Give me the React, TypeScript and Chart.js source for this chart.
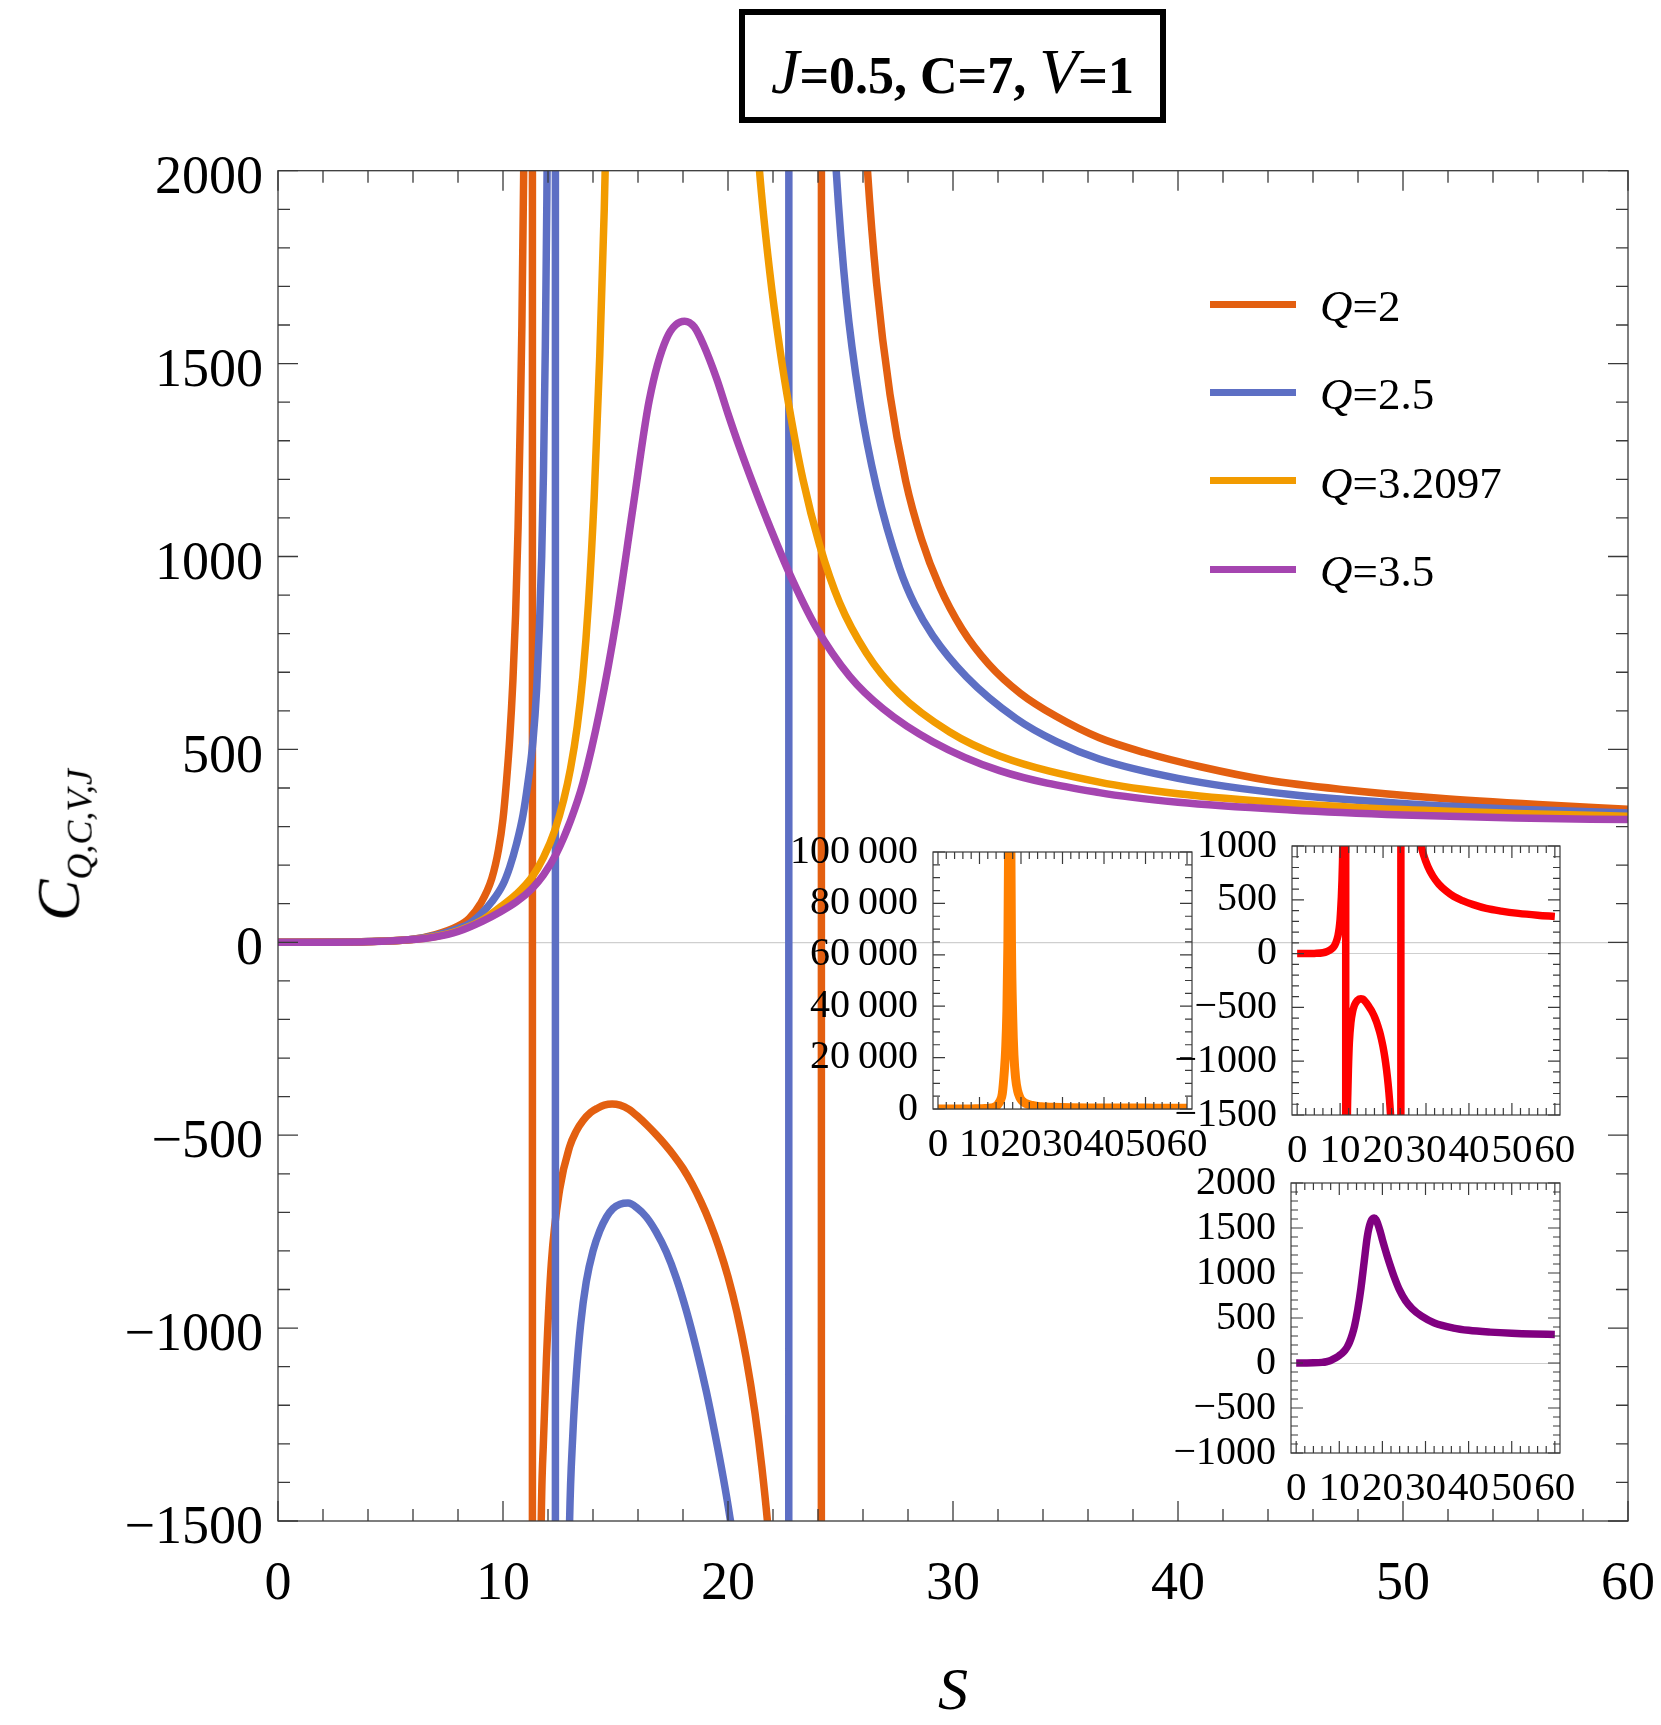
import React, { useEffect, useRef } from 'react';
import { Chart, registerables } from 'chart.js';

Chart.register(...registerables);

// ---------------- data ----------------
const S_Q2 = [0, 2, 4, 6, 7, 8, 8.5, 9, 9.5, 9.8, 10.0, 10.15, 10.3, 10.44, 10.56, 10.67, 10.76, 10.84, 10.92, 11.0, 11.1, 11.2, 11.29, 11.32, 11.4, 11.55, 11.7, 11.8, 11.93, 12.15, 12.52, 12.96, 13.25, 13.56, 13.9, 14.2, 14.5, 14.85, 15.2, 15.6, 16.0, 16.4, 16.8, 17.2, 17.6, 18.0, 18.4, 18.8, 19.2, 19.6, 20.0, 20.4, 20.8, 21.2, 21.5, 21.8, 22.3, 23.0, 23.6, 23.9, 24.1, 24.2, 24.4, 24.8, 25.4, 25.8, 26.2, 26.6, 27.2, 27.9, 28.6, 29.4, 30.4, 31.6, 33.0, 34.6, 36.5, 38.5, 41, 44, 47.5, 51.5, 56, 60];
const C_Q2 = [0, 0.5, 2, 8, 20, 42, 62, 100, 165, 240, 320, 414, 530, 678, 850, 1075, 1330, 1600, 2000, 2630, 4000, 8600, 60000, -40000, -6000, -2500, -1500, -1290, -1080, -830, -640, -530, -490, -462, -441, -430, -422, -419, -422, -433, -452, -474, -498, -524, -553, -586, -626, -673, -727, -791, -867, -960, -1075, -1220, -1358, -1532, -1946, -3130, -6545, -14400, -72000, 70000, 14500, 5750, 3100, 2420, 2000, 1710, 1420, 1195, 1045, 922, 812, 720, 645, 585, 530, 492, 455, 420, 395, 374, 357, 345];

const S_Q25 = [0, 2, 4, 6, 7, 8, 8.5, 9, 9.5, 10, 10.3, 10.6, 10.89, 11.1, 11.33, 11.5, 11.62, 11.72, 11.8, 11.88, 11.95, 12.02, 12.1, 12.2, 12.27, 12.32, 12.34, 12.45, 12.7, 12.96, 13.1, 13.26, 13.45, 13.7, 14.0, 14.3, 14.6, 14.89, 15.2, 15.56, 15.95, 16.37, 16.8, 17.26, 17.7, 18.15, 18.6, 19.04, 19.4, 19.78, 20.07, 20.2, 21.0, 22.0, 22.5, 22.65, 22.75, 23.0, 23.5, 24.2, 24.81, 25.26, 25.85, 26.6, 27.63, 28.3, 29.1, 30.6, 32.8, 34.6, 36.5, 40, 45, 50, 55, 60];
const C_Q25 = [0, 0.4, 2, 8, 18, 36, 48, 72, 105, 150, 195, 255, 330, 410, 520, 660, 820, 1000, 1220, 1540, 1930, 2500, 3400, 6000, 15000, 70000, -80000, -7900, -2550, -1500, -1280, -1120, -990, -880, -800, -748, -712, -690, -679, -676, -688, -712, -750, -803, -870, -955, -1055, -1165, -1268, -1385, -1485, -1540, -2350, -5700, -20000, -80000, 72000, 12300, 4800, 2700, 2000, 1670, 1405, 1180, 969, 875, 795, 688, 580, 520, 475, 425, 383, 360, 345, 335];

const S_Q32 = [0, 2, 4, 6, 7, 8, 9, 9.85, 10.6, 11.3, 11.8, 12.3, 12.7, 13.0, 13.3, 13.55, 13.8, 14.05, 14.3, 14.5, 14.7, 15.0, 15.5, 16.0, 16.3, 16.6, 16.85, 17.05, 17.3, 17.5, 17.7, 18.0, 18.3, 18.7, 19.2, 19.7, 20.2, 20.7, 21.4, 21.85, 22.3, 22.74, 23.33, 24.07, 24.96, 26.15, 27.6, 29.85, 32.07, 36.5, 40, 45, 50, 55, 60];
const C_Q32 = [0, 0.3, 1.5, 7, 15, 30, 55, 90, 125, 170, 220, 290, 370, 450, 560, 690, 880, 1150, 1520, 1900, 2400, 3200, 6000, 15000, 23000, 38000, 65000, 110000, 200000, 120000, 65000, 36000, 21000, 12000, 7000, 4600, 3300, 2600, 2000, 1740, 1540, 1380, 1200, 1030, 880, 750, 645, 545, 483, 415, 385, 360, 344, 334, 327];

const S_Q35 = [0, 2, 4, 6, 7, 8, 9.1, 9.85, 10.6, 11.3, 11.8, 12.37, 13.0, 13.56, 14.3, 15.04, 15.78, 16.5, 17.26, 18.07, 18.5, 18.9, 19.5, 20.0, 20.5, 21.1, 21.7, 22.74, 23.93, 25.4, 26.9, 29.1, 32.07, 36.5, 40, 45, 50, 55, 60];
const C_Q35 = [0, 0.3, 1.5, 7, 14, 28, 55, 78, 105, 140, 175, 230, 315, 414, 600, 837, 1128, 1405, 1564, 1610, 1595, 1550, 1460, 1370, 1285, 1190, 1100, 955, 815, 690, 605, 520, 445, 388, 363, 343, 330, 322, 318];

const SERIES_Q = ['2', '2.5', '3.2097', '3.5'];
const SERIES_COLORS = ['#e35f10', '#5d6fc4', '#f29b00', '#a545b0'];

const X_TICKS = [0, 10, 20, 30, 40, 50, 60];
const Y_TICKS_MAIN = [-1500, -1000, -500, 0, 500, 1000, 1500, 2000];
const Y_TICKS_A = [0, 20000, 40000, 60000, 80000, 100000];
const Y_TICKS_B = [-1500, -1000, -500, 0, 500, 1000];
const Y_TICKS_C = [-1000, -500, 0, 500, 1000, 1500, 2000];

const FONT = "'Liberation Serif', 'Times New Roman', serif";

// ---------------- helpers ----------------
function range(a: number, b: number, step: number): number[] {
  const out: number[] = [];
  for (let k = 0; a + k * step <= b + 1e-9; k++) out.push(Math.round((a + k * step) * 1000) / 1000);
  return out;
}

function pts(s: number[], c: number[]) {
  const n = Math.min(s.length, c.length);
  const out: { x: number; y: number }[] = [];
  for (let i = 0; i < n; i++) out.push({ x: s[i], y: c[i] });
  return out;
}

const minusFmt = (v: number) => (v < 0 ? '\u2212' + Math.abs(v) : String(v));
const thousandsFmt = (v: number) => (v === 0 ? '0' : `${Math.round(v / 1000)}\u2009000`);

function frameTicksPlugin(cfg: any) {
  return {
    id: 'frameTicks',
    afterDatasetsDraw(chart: any) {
      const { ctx, chartArea: a } = chart;
      const xs = chart.scales.x;
      const ys = chart.scales.y;
      ctx.save();
      ctx.strokeStyle = cfg.color;
      ctx.lineWidth = cfg.width;
      ctx.lineCap = 'butt';
      ctx.beginPath();
      for (const v of cfg.xMinor) {
        const p = xs.getPixelForValue(v);
        const len = cfg.xMajor.includes(v) ? cfg.majorLen : cfg.minorLen;
        ctx.moveTo(p, a.bottom);
        ctx.lineTo(p, a.bottom - len);
        ctx.moveTo(p, a.top);
        ctx.lineTo(p, a.top + len);
      }
      for (const v of cfg.yMinor) {
        const p = ys.getPixelForValue(v);
        const len = cfg.yMajor.includes(v) ? cfg.majorLen : cfg.minorLen;
        ctx.moveTo(a.left, p);
        ctx.lineTo(a.left + len, p);
        ctx.moveTo(a.right, p);
        ctx.lineTo(a.right - len, p);
      }
      ctx.stroke();
      ctx.strokeRect(a.left, a.top, a.right - a.left, a.bottom - a.top);
      ctx.restore();
    },
  };
}

const zeroGrid = (width: number) => ({
  display: true,
  drawTicks: false,
  lineWidth: width,
  color: (c: any) => (c.tick && c.tick.value === 0 ? '#cfcfcf' : 'rgba(0,0,0,0)'),
});

// ---------------- inset ----------------
type Frame = { l: number; t: number; r: number; b: number };

function Inset(props: {
  frame: Frame;
  s: number[];
  c: number[];
  color: string;
  lineWidth: number;
  yMin: number;
  yMax: number;
  yTicks: number[];
  yMinorStep: number;
  fmt: (v: number) => string;
}) {
  const ref = useRef<HTMLCanvasElement | null>(null);
  const ML = 175, MT = 30, MR = 40, MB = 72;
  const { frame } = props;
  const w = frame.r - frame.l + ML + MR;
  const h = frame.b - frame.t + MT + MB;
  useEffect(() => {
    const chart = new Chart(ref.current as HTMLCanvasElement, {
      type: 'line',
      data: {
        datasets: [
          {
            data: pts(props.s, props.c),
            borderColor: props.color,
            borderWidth: props.lineWidth,
            pointRadius: 0,
            cubicInterpolationMode: 'monotone',
            borderJoinStyle: 'round',
            clip: 0,
          } as any,
        ],
      },
      options: {
        responsive: false,
        animation: false,
        events: [],
        layout: { padding: { left: 0, top: MT, right: MR, bottom: 0 } },
        plugins: { legend: { display: false }, tooltip: { enabled: false } },
        scales: {
          x: {
            type: 'linear',
            min: -1.2,
            max: 61.2,
            afterFit: (s: any) => { s.height = MB; s.paddingLeft = 0; s.paddingRight = 0; },
            afterBuildTicks: (s: any) => { s.ticks = X_TICKS.map((v) => ({ value: v })); },
            grid: { display: false, drawTicks: false },
            border: { display: false },
            ticks: {
              autoSkip: false, maxRotation: 0, minRotation: 0, padding: 12,
              color: '#000', font: { family: FONT, size: 41 },
              callback: (v: any) => String(v),
            },
          },
          y: {
            type: 'linear',
            min: props.yMin,
            max: props.yMax,
            afterFit: (s: any) => { s.width = ML; s.paddingTop = 0; s.paddingBottom = 0; },
            afterBuildTicks: (s: any) => { s.ticks = props.yTicks.map((v) => ({ value: v })); },
            grid: zeroGrid(1),
            border: { display: false },
            ticks: {
              autoSkip: false, padding: 15,
              color: '#000', font: { family: FONT, size: 40 },
              callback: (v: any) => props.fmt(Number(v)),
            },
          },
        },
      } as any,
      plugins: [
        frameTicksPlugin({
          xMajor: X_TICKS, xMinor: range(0, 60, 2),
          yMajor: props.yTicks, yMinor: range(props.yMin, props.yMax, props.yMinorStep),
          majorLen: 12, minorLen: 7, color: '#3a3a3a', width: 1.2,
        }),
      ],
    });
    return () => chart.destroy();
  }, []);
  return (
    <canvas
      ref={ref}
      width={w}
      height={h}
      style={{ position: 'absolute', left: frame.l - ML, top: frame.t - MT, width: w, height: h }}
    />
  );
}

// ---------------- main ----------------
export default function App() {
  const mainRef = useRef<HTMLCanvasElement | null>(null);

  useEffect(() => {
    const seriesPts = [pts(S_Q2, C_Q2), pts(S_Q25, C_Q25), pts(S_Q32, C_Q32), pts(S_Q35, C_Q35)];
    const chart = new Chart(mainRef.current as HTMLCanvasElement, {
      type: 'line',
      data: {
        datasets: seriesPts.map((d, i) => ({
          label: 'Q=' + SERIES_Q[i],
          data: d,
          borderColor: SERIES_COLORS[i],
          borderWidth: 7.5,
          pointRadius: 0,
          cubicInterpolationMode: 'monotone',
          borderJoinStyle: 'round',
          clip: 0,
          order: 3 - i,
        })) as any,
      },
      options: {
        responsive: false,
        animation: false,
        events: [],
        layout: { padding: { left: 0, top: 170.7, right: 33, bottom: 0 } },
        plugins: { legend: { display: false }, tooltip: { enabled: false } },
        scales: {
          x: {
            type: 'linear',
            min: 0,
            max: 60,
            afterFit: (s: any) => { s.height = 204; s.paddingLeft = 0; s.paddingRight = 0; },
            afterBuildTicks: (s: any) => { s.ticks = X_TICKS.map((v) => ({ value: v })); },
            grid: { display: false, drawTicks: false },
            border: { display: false },
            ticks: {
              autoSkip: false, maxRotation: 0, minRotation: 0, padding: 31,
              color: '#000', font: { family: FONT, size: 54 },
              callback: (v: any) => String(v),
            },
          },
          y: {
            type: 'linear',
            min: -1500,
            max: 2000,
            afterFit: (s: any) => { s.width = 278; s.paddingTop = 0; s.paddingBottom = 0; },
            afterBuildTicks: (s: any) => { s.ticks = Y_TICKS_MAIN.map((v) => ({ value: v })); },
            grid: zeroGrid(1.2),
            border: { display: false },
            ticks: {
              autoSkip: false, padding: 15, labelOffset: 8,
              color: '#000', font: { family: FONT, size: 54 },
              callback: (v: any) => minusFmt(Number(v)),
            },
          },
        },
      } as any,
      plugins: [
        frameTicksPlugin({
          xMajor: X_TICKS, xMinor: range(0, 60, 2),
          yMajor: Y_TICKS_MAIN, yMinor: range(-1500, 2000, 100),
          majorLen: 20, minorLen: 12, color: '#3a3a3a', width: 1.3,
        }),
      ],
    });
    return () => chart.destroy();
  }, []);

  const legendY0 = 304;
  const legendDY = 88.4;

  return (
    <div style={{ position: 'absolute', left: 0, top: 0, width: 1661, height: 1725, background: '#fff', overflow: 'hidden' }}>
      <canvas ref={mainRef} width={1661} height={1725} style={{ position: 'absolute', left: 0, top: 0, width: 1661, height: 1725 }} />

      <Inset frame={{ l: 933, t: 852, r: 1192, b: 1109 }} s={S_Q32} c={C_Q32} color="#ff8000" lineWidth={9}
        yMin={0} yMax={100000} yTicks={Y_TICKS_A} yMinorStep={5000} fmt={thousandsFmt} />
      <Inset frame={{ l: 1292, t: 846, r: 1560, b: 1115 }} s={S_Q2} c={C_Q2} color="#ff0000" lineWidth={7.5}
        yMin={-1500} yMax={1000} yTicks={Y_TICKS_B} yMinorStep={100} fmt={minusFmt} />
      <Inset frame={{ l: 1291, t: 1183, r: 1560, b: 1453 }} s={S_Q35} c={C_Q35} color="#800080" lineWidth={7.5}
        yMin={-1000} yMax={2000} yTicks={Y_TICKS_C} yMinorStep={100} fmt={minusFmt} />

      {/* title box */}
      <div style={{
        position: 'absolute', left: 739, top: 9, width: 427, height: 114, boxSizing: 'border-box',
        border: '6px solid #000', display: 'flex', alignItems: 'center', justifyContent: 'center',
        fontFamily: FONT, fontWeight: 'bold', fontSize: 52, lineHeight: 1, paddingTop: 12, background: '#fff',
        whiteSpace: 'nowrap',
      }}>
        <span>
          <i style={{ fontWeight: 'normal', fontSize: 64 }}>J</i>=0.5, C=7, <i style={{ fontWeight: 'normal', fontSize: 64 }}>V</i>=1
        </span>
      </div>

      {/* legend */}
      {SERIES_Q.map((q, i) => (
        <React.Fragment key={q}>
          <div style={{
            position: 'absolute', left: 1210, top: legendY0 + i * legendDY - 3.5, width: 86, height: 7,
            background: SERIES_COLORS[i],
          }} />
          <div style={{
            position: 'absolute', left: 1320, top: legendY0 + i * legendDY + 2, transform: 'translateY(-50%)',
            fontFamily: FONT, fontSize: 45, lineHeight: 1, whiteSpace: 'nowrap', color: '#000',
          }}>
            <i>Q</i>={q}
          </div>
        </React.Fragment>
      ))}

      {/* y axis title */}
      <div style={{
        position: 'absolute', left: 62, top: 845, transform: 'translate(-50%, -50%) rotate(-90deg)',
        fontFamily: FONT, fontStyle: 'italic', fontSize: 62, lineHeight: 1, whiteSpace: 'nowrap', color: '#000',
      }}>
        C<sub style={{ fontSize: 36, verticalAlign: '-0.35em' }}>Q,C,V,J</sub>
      </div>

      {/* x axis title */}
      <div style={{
        position: 'absolute', left: 953, top: 1689, transform: 'translate(-50%, -50%)',
        fontFamily: FONT, fontStyle: 'italic', fontSize: 60, lineHeight: 1, whiteSpace: 'nowrap', color: '#000',
      }}>
        S
      </div>
    </div>
  );
}
